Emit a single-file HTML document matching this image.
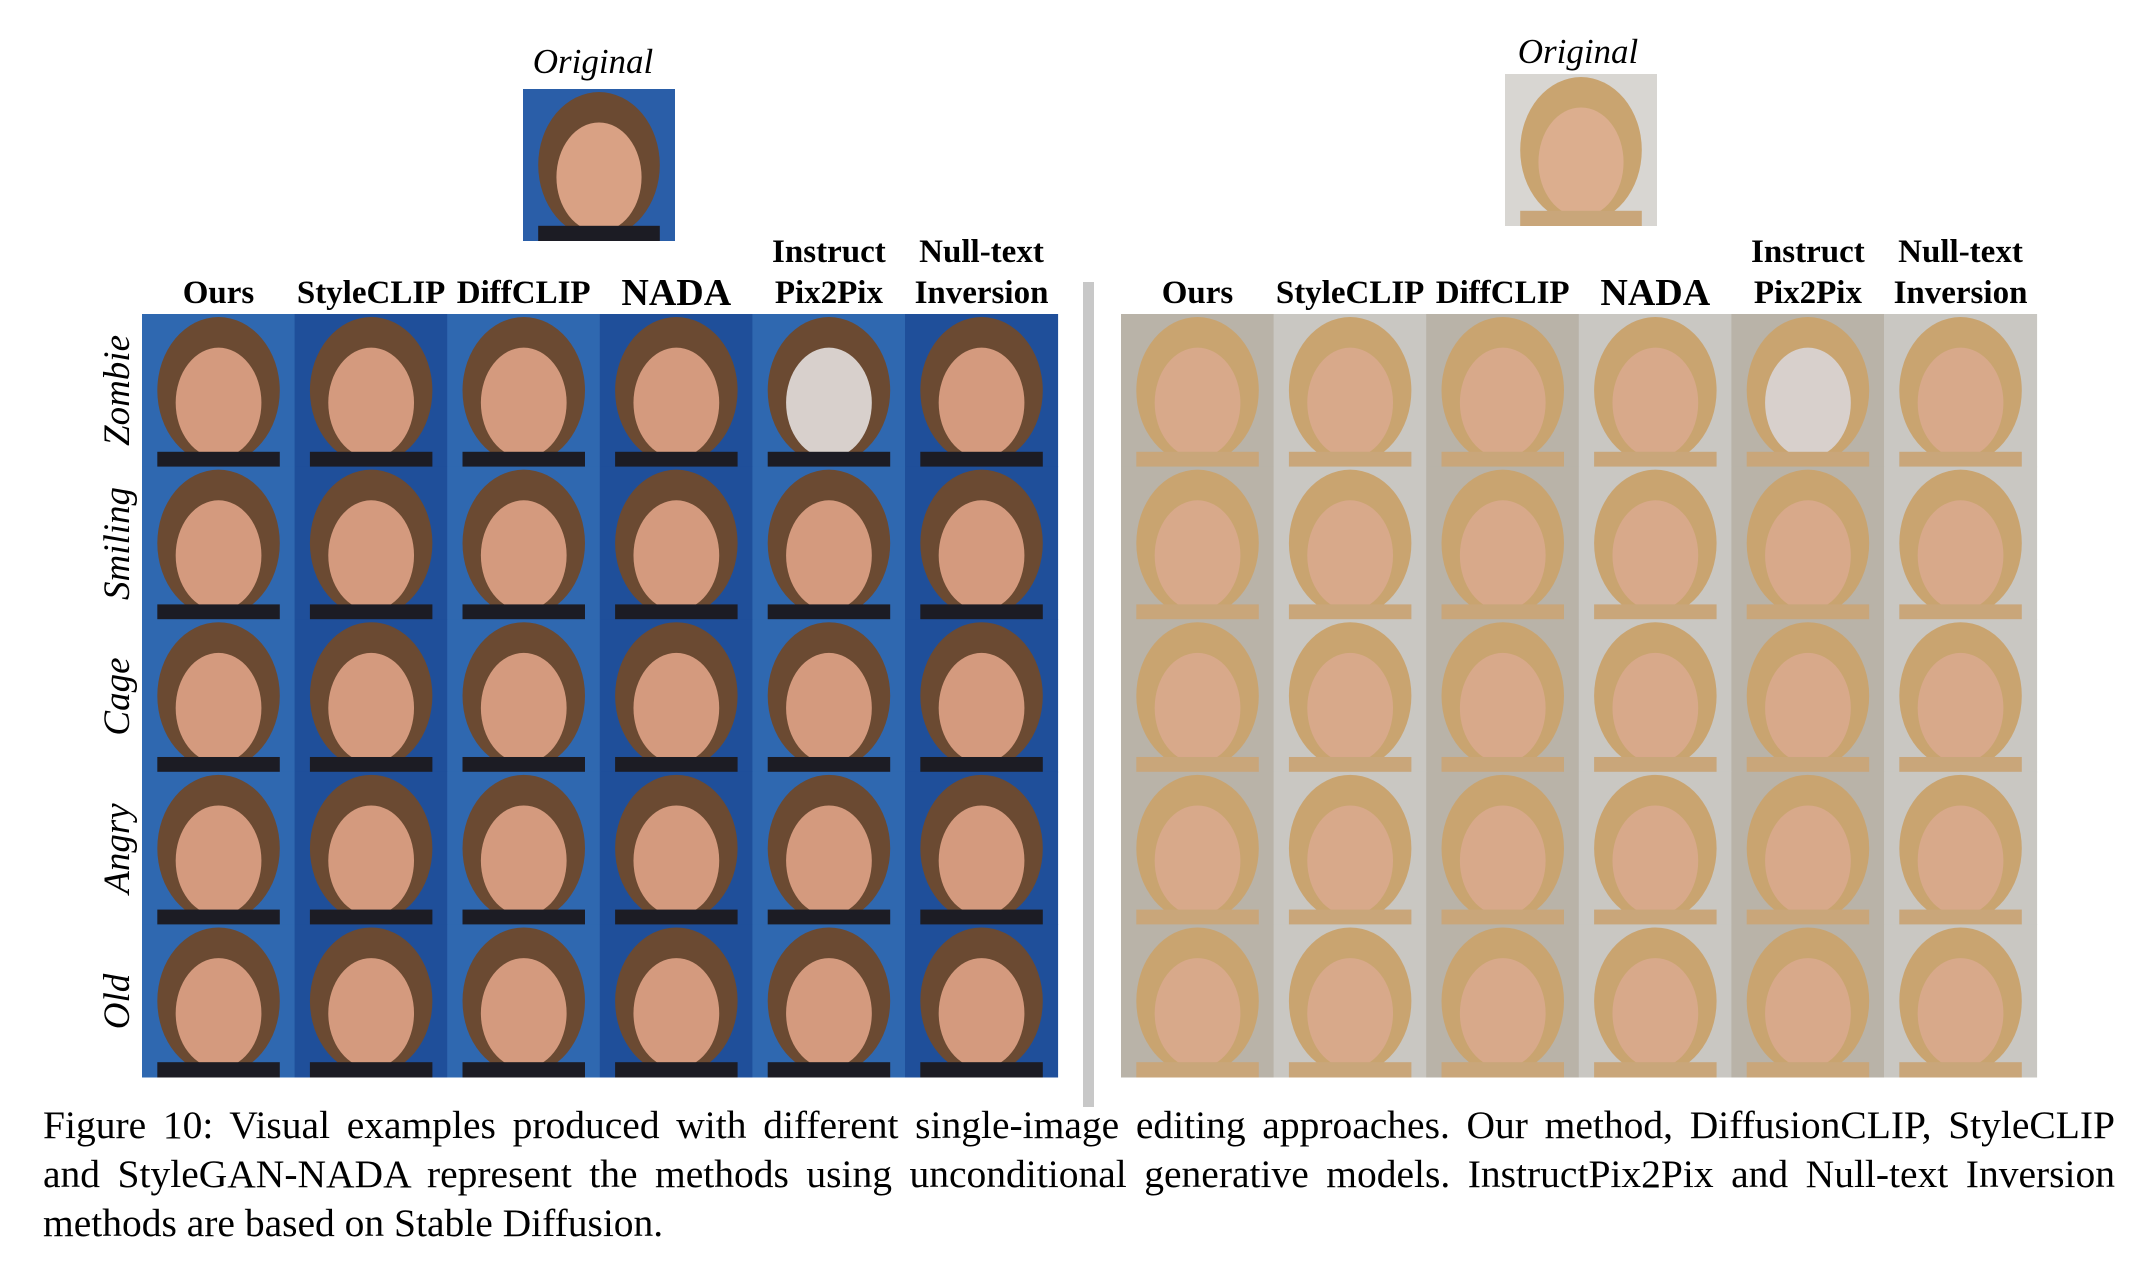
<!DOCTYPE html>
<html><head><meta charset="utf-8"><style>
body{margin:0;background:#fff;width:2146px;height:1284px;position:relative;overflow:hidden;font-family:"Liberation Serif",serif;color:#000}
.abs{position:absolute}
.hdr{position:absolute;font-weight:bold;font-size:33px;text-align:center;width:153px;line-height:41px;white-space:nowrap}
.orig{position:absolute;font-style:italic;font-size:35px;width:200px;text-align:center}
.rowlab{position:absolute;font-style:italic;font-size:37px;width:153px;text-align:center;transform:rotate(-90deg);transform-origin:center}
.cap{position:absolute;left:43px;width:2072px;font-size:39.5px;line-height:49px;white-space:nowrap}
.just{text-align:justify;text-align-last:justify}
</style></head><body>
<svg id="figs" class="abs" style="left:0;top:0" width="2146" height="1284"></svg>
<div class="abs" style="left:1083px;top:282px;width:11px;height:825px;background:#c8c8c8"></div>
<div class="orig" style="left:493px;top:42px">Original</div>
<div class="orig" style="left:1478px;top:32px">Original</div>
<div id="hdrs"></div>
<div id="rows"></div>
<div class="cap just" style="top:1101px">Figure 10: Visual examples produced with different single-image editing approaches. Our method, DiffusionCLIP, StyleCLIP</div>
<div class="cap just" style="top:1150px">and StyleGAN-NADA represent the methods using unconditional generative models. InstructPix2Pix and Null-text Inversion</div>
<div class="cap" style="top:1199px">methods are based on Stable Diffusion.</div>
<script>
const methods=[["","Ours"],["","StyleCLIP"],["","DiffCLIP"],["","NADA"],["Instruct","Pix2Pix"],["Null-text","Inversion"]];
const edits=["Zombie","Smiling","Cage","Angry","Old"];
const gridLefts=[142,1121];
const cell=152.6, top0=314;
const svg=document.getElementById('figs');
const NS="http://www.w3.org/2000/svg";
function face(x,y,w,bg,hair,skin,name){
  const g=document.createElementNS(NS,'g');
  
  
  const r=document.createElementNS(NS,'rect');
  r.setAttribute('x',x);r.setAttribute('y',y);r.setAttribute('width',w);r.setAttribute('height',w);r.setAttribute('fill',bg);g.appendChild(r);
  const h=document.createElementNS(NS,'ellipse');
  h.setAttribute('cx',x+w*0.5);h.setAttribute('cy',y+w*0.5);h.setAttribute('rx',w*0.4);h.setAttribute('ry',w*0.48);h.setAttribute('fill',hair);g.appendChild(h);
  const s=document.createElementNS(NS,'ellipse');
  s.setAttribute('cx',x+w*0.5);s.setAttribute('cy',y+w*0.58);s.setAttribute('rx',w*0.28);s.setAttribute('ry',w*0.36);s.setAttribute('fill',skin);g.appendChild(s);
  const sh=document.createElementNS(NS,'rect');
  sh.setAttribute('x',x+w*0.1);sh.setAttribute('y',y+w*0.9);sh.setAttribute('width',w*0.8);sh.setAttribute('height',w*0.1);sh.setAttribute('fill',hair==='#6b4a32'?'#1c1c24':'#c9a67a');g.appendChild(sh);
  svg.appendChild(g);
}
face(523,89,152,'#2a5ea8','#6b4a32','#d9a184','original-image-left');
face(1505,74,152,'#d8d6d2','#c9a470','#dcae8e','original-image-right');
gridLefts.forEach((gl,gi)=>{
  edits.forEach((e,ri)=>{
    methods.forEach((m,ci)=>{
      const left=gi===0;
      const bg=left?(ci%2? '#1f4f9a':'#2f68b0'):(ci%2?'#c9c7c2':'#b9b3a8');
      const hair=left?'#6b4a32':'#c9a470';
      let skin=left?'#d49a7e':'#d8a98a';
      if(ri===0&&ci===4) skin='#d8d0cc';
      face(gl+ci*cell,top0+ri*cell,cell+0.5,bg,hair,skin,'cell-'+(left?'left':'right')+'-'+e.toLowerCase()+'-'+ci);
    });
  });
  methods.forEach((m,ci)=>{
    const d=document.createElement('div');
    d.className='hdr';
    
    
    d.style.left=(gl+ci*cell)+'px';
    d.style.top='232px';
    if(m[1]==='NADA'){d.style.fontSize='38px';}
    d.innerHTML=(m[0]||'&nbsp;')+'<br>'+m[1];
    document.getElementById('hdrs').appendChild(d);
  });
});
edits.forEach((e,ri)=>{
  const d=document.createElement('div');
  d.className='rowlab';
  
  
  d.style.left=(117-76)+'px';
  d.style.top=(top0+ri*cell+cell/2-21)+'px';
  d.textContent=e;
  document.getElementById('rows').appendChild(d);
});
</script>
</body></html>
